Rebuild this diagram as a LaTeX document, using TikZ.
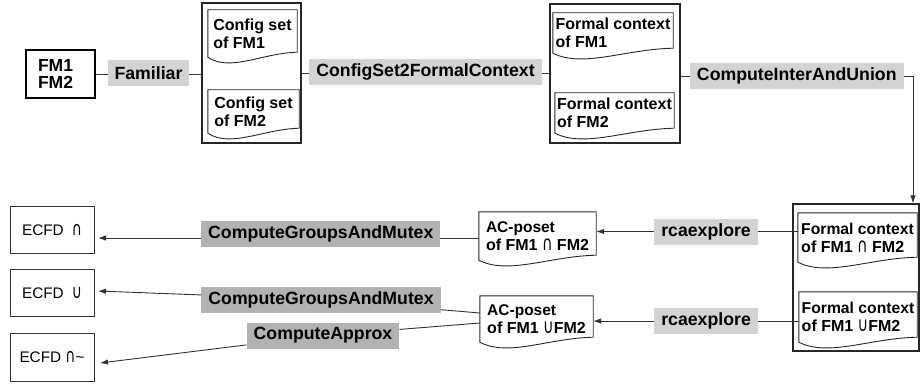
\documentclass[tikz,border=0pt]{standalone}
\usepackage{fontspec}
\usepackage{graphicx}
\setmainfont{Liberation Sans}
\newfontfamily\symf{DejaVu Sans}
\usetikzlibrary{calc,arrows.meta}
\definecolor{lbllight}{RGB}{211,211,211}
\definecolor{lbldark}{RGB}{178,178,178}
\definecolor{linegray}{RGB}{50,50,50}
\tikzset{
  conn/.style={draw=linegray, line width=0.9pt},
  arr/.style={-{Latex[length=8pt,width=5.5pt]}},
  lbl/.style={fill=lbllight, inner xsep=7pt, inner ysep=0pt, minimum height=26pt, font=\bfseries\fontsize{17.7}{20}\selectfont},
  lbldk/.style={lbl, fill=lbldark},
  grp/.style={draw=black!85, line width=1.1pt, inner sep=0pt},
  docnode/.style={inner sep=0pt, align=left, font=\bfseries\fontsize{16}{18}\selectfont},
  docline/.style={draw=black!85, line width=0.9pt},
  ebox/.style={draw=black!80, line width=0.9pt, minimum width=84pt, inner sep=0pt, font=\fontsize{15.3}{18}\selectfont},
  fmbox/.style={draw=black, line width=1.1pt, minimum width=69pt, minimum height=48pt, text width=45pt, inner xsep=12pt, inner ysep=0pt, align=left, font=\bfseries\fontsize{17.5}{17.5}\selectfont}
}
\newcommand\mycap{{\symf\mdseries\smash{\scalebox{0.9}[1.25]{∩}}}}
\newcommand\mycup{{\symf\mdseries\smash{\scalebox{0.9}[1.25]{∪}}}}
\newcommand\mydoc[6]{%
  \pgfmathsetmacro\dcx{(#2+#3)/2}\pgfmathsetmacro\dcy{(#4+#5)/2}%
  \pgfmathsetmacro\dw{#3-#2}\pgfmathsetmacro\dh{#5-#4}%
  \node[docnode, minimum width=\dw pt, minimum height=\dh pt] (#1) at (\dcx,\dcy) {#6};
  \draw[docline] (#1.south west) -- (#1.north west) -- (#1.north east) -- ([yshift=5pt]#1.south east)
    .. controls ($(#1.south west)!0.6!(#1.south east)+(0pt,4pt)$) and ($(#1.south west)!0.25!(#1.south east)+(0pt,-15pt)$) .. (#1.south west) -- cycle;
}
\begin{document}
\begin{tikzpicture}[x=1pt,y=-1pt]
\useasboundingbox (0,0) rectangle (920,385);
% top row
\node[fmbox] (fm) at (60.5,74) {FM1\\FM2};
\node[grp, minimum width=99pt, minimum height=140pt] (g1) at (251.5,73) {};
\node[grp, minimum width=130pt, minimum height=139pt] (g2) at (615,73.5) {};
\node[grp, minimum width=126pt, minimum height=147pt] (g3) at (856,277.5) {};
\mydoc{cs1}{208}{297}{10}{57}{Config set\\of FM1}
\mydoc{cs2}{208}{299}{90}{133}{Config set\\of FM2}
\mydoc{ft1}{553}{673}{13}{53}{Formal context\\of FM1}
\mydoc{ft2}{555}{674}{93}{133}{Formal context\\of FM2}
\mydoc{fc1}{798}{917}{213}{262}{\fontsize{15.7}{17.5}\selectfont Formal context\\of FM1 \mycap{} FM2}
\mydoc{fc2}{799}{917}{292}{342}{\fontsize{15.7}{17.5}\selectfont Formal context\\of FM1 \mycup FM2}
\mydoc{ac1}{479}{596}{212}{260}{\fontsize{15.5}{17.5}\selectfont AC-poset\\of FM1 \mycap{} FM2}
\mydoc{ac2}{480}{593}{296}{342}{\fontsize{15.5}{17.5}\selectfont AC-poset\\of FM1 \mycup FM2}
% result boxes
\node[ebox, minimum height=46.6pt] (e1) at (52,230) {ECFD\hspace{8pt}\mycap};
\node[ebox, minimum height=47.7pt] (e2) at (52,292.8) {ECFD\hspace{8pt}\mycup};
\node[ebox, minimum height=48.4pt] (e3) at (52,357.5) {ECFD \mycap\textasciitilde};
\coordinate (t1) at (98,238);
\coordinate (t2) at (98,291);
\coordinate (t3) at (100,363);
\coordinate (turn) at (913,76);
% top connectors
\draw[conn] (fm.east) -- node[lbl,pos=0.5,yshift=1pt]{Familiar} (fm.east -| g1.west);
\draw[conn] (g1.east) -- node[lbl,pos=0.5,yshift=1pt]{ConfigSet2FormalContext} (g1.east -| g2.west);
\draw[conn,arr] (g2.east |- turn) -- node[lbl,pos=0.5]{ComputeInterAndUnion} (turn) -- (turn |- g3.north);
% rcaexplore
\draw[conn,arr] ([yshift=6pt]fc1.west) -- node[lbl,pos=0.455]{rcaexplore} ([yshift=6pt]fc1.west -| ac1.east);
\draw[conn,arr] ([yshift=-4pt]fc2.west) -- node[lbl,pos=0.451]{rcaexplore} ([yshift=-4pt]fc2.west -| ac2.east);
% groups and mutex
\draw[conn,arr] ([yshift=-2pt]ac1.west) -- node[lbldk,pos=0.415,yshift=4pt]{ComputeGroupsAndMutex} (t1);
\node[lbldk] (cgm2) at (321,299.5) {ComputeGroupsAndMutex};
\node[lbldk] (ca) at (323,335.5) {ComputeApprox};
\draw[conn] ([yshift=6pt]ac2.west) -- (cgm2);
\draw[conn,arr] (cgm2) -- (t2);
\draw[conn] ([yshift=-4pt]ac2.west) -- (ca);
\draw[conn,arr] (ca) -- (t3);
\end{tikzpicture}
\end{document}
